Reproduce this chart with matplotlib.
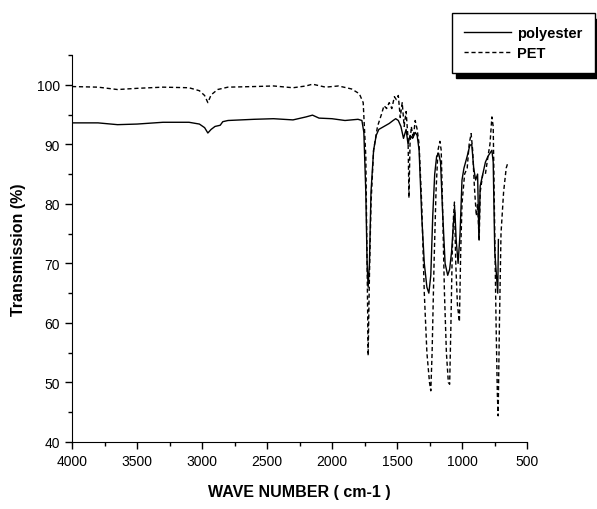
import matplotlib
matplotlib.use("Agg")
import matplotlib.pyplot as plt
from matplotlib.ticker import MultipleLocator

plt.rcParams['font.family'] = ['Liberation Sans', 'DejaVu Sans']

# PET (dashed) - wavenumber (cm-1) and transmission (%)
pet_wn = [4000, 3800, 3650, 3500, 3300, 3100, 3020, 2980, 2955, 2930, 2880, 2800,
          2600, 2450, 2300, 2200, 2150, 2050, 1950, 1850, 1790, 1760, 1740, 1730,
          1722, 1712, 1700, 1680, 1650, 1620, 1600, 1580, 1560, 1540, 1520, 1505,
          1490, 1475, 1460, 1445, 1430, 1415, 1408, 1400, 1390, 1375, 1360, 1345,
          1330, 1310, 1290, 1270, 1250, 1240, 1230, 1215, 1200, 1185, 1170, 1160,
          1150, 1135, 1120, 1105, 1095, 1085, 1075, 1065, 1058, 1048, 1035, 1020,
          1010, 1000, 980, 960, 945, 930, 918, 905, 890, 880, 868, 860, 840, 820,
          800, 785, 770, 760, 748, 738, 728, 722, 712, 700, 680, 660, 646]
pet_t = [99.7, 99.6, 99.2, 99.4, 99.6, 99.5, 99.0, 98.2, 97.0, 98.3, 99.2, 99.6,
         99.7, 99.8, 99.5, 99.8, 100.1, 99.6, 99.8, 99.3, 98.5, 97.0, 88.0, 70.0,
         54.5, 68.0, 80.0, 89.0, 93.0, 95.0, 96.5, 96.0, 97.0, 96.0, 98.0, 97.5,
         98.2, 94.5, 97.0, 93.0, 95.5, 91.0, 81.0, 90.0, 93.0, 91.0, 94.0, 92.5,
         90.0, 80.0, 65.0, 55.0, 50.0, 48.6, 55.0, 70.0, 82.0, 89.0, 90.5, 89.0,
         80.0, 65.0, 55.0, 50.0, 49.7, 60.0, 72.0, 78.0, 80.3, 70.0, 63.0, 60.2,
         72.0, 80.0, 85.0, 86.0, 90.0, 91.8, 89.0, 83.0, 78.0, 80.0, 73.8, 82.0,
         85.0, 85.0, 88.0, 90.0, 94.6, 93.0, 75.0, 60.0, 48.0, 44.4, 60.0, 75.0,
         82.0, 86.0, 87.0]

# polyester (solid)
poly_wn = [4000, 3800, 3650, 3500, 3300, 3100, 3020, 2980, 2955, 2930, 2900, 2860,
           2840, 2800, 2600, 2450, 2300, 2200, 2150, 2100, 2000, 1900, 1800, 1770,
           1755, 1740, 1730, 1722, 1712, 1700, 1680, 1660, 1640, 1600, 1560, 1530,
           1510, 1490, 1470, 1450, 1430, 1415, 1400, 1380, 1360, 1345, 1330, 1310,
           1290, 1270, 1255, 1240, 1225, 1210, 1195, 1180, 1165, 1150, 1130, 1110,
           1095, 1080, 1065, 1055, 1045, 1030, 1015, 1000, 985, 960, 940, 925, 910,
           895, 880, 870, 860, 840, 820, 800, 785, 770, 760, 748, 735, 725, 720]
poly_t = [93.6, 93.6, 93.3, 93.4, 93.7, 93.7, 93.4, 92.8, 91.9, 92.5, 93.0, 93.2,
          93.8, 94.0, 94.2, 94.3, 94.1, 94.6, 94.9, 94.4, 94.3, 94.0, 94.2, 94.0,
          92.0, 82.0, 70.0, 66.0, 70.0, 82.0, 89.0, 91.5, 92.5, 93.0, 93.5, 94.0,
          94.3, 94.0, 93.0, 91.0, 92.5, 90.0, 91.5, 91.0, 92.0, 91.5, 89.0, 78.0,
          70.0, 66.0, 65.0, 68.0, 78.0, 85.0, 88.0, 88.5, 87.0, 79.0, 70.0, 68.0,
          69.0, 72.0, 77.0, 79.0, 74.0, 70.0, 75.0, 84.0, 86.0, 88.0, 89.8, 90.0,
          86.0, 84.0, 85.0, 74.0, 83.0, 85.0, 87.0, 88.0, 88.5, 89.0, 87.0, 72.0,
          68.0, 65.0, 74.0]

fig = plt.figure(figsize=(5.97, 5.10), dpi=100)
ax = fig.add_axes([72 / 597, 67 / 510, 455 / 597, 387 / 510])

ax.plot(poly_wn, poly_t, color='black', lw=1.0, label='polyester')
ax.plot(pet_wn, pet_t, color='black', lw=1.0, linestyle=(0, (3, 2)), label='PET')

ax.set_xlim(4000, 500)
ax.set_ylim(40, 105)
ax.xaxis.set_major_locator(MultipleLocator(500))
ax.xaxis.set_minor_locator(MultipleLocator(250))
ax.yaxis.set_major_locator(MultipleLocator(10))
ax.yaxis.set_minor_locator(MultipleLocator(5))
ax.tick_params(which='major', direction='out', length=5, width=1, labelsize=10)
ax.tick_params(which='minor', direction='out', length=3, width=1)

ax.spines['top'].set_visible(False)
ax.spines['right'].set_visible(False)

ax.set_xlabel('WAVE NUMBER ( cm-1 )', fontsize=11.5, fontweight='bold', labelpad=12)
ax.set_ylabel('Transmission (%)', fontsize=11.5, fontweight='bold', labelpad=8)

# legend box runs off the right edge like in the scan
leg = ax.legend(loc='upper right', bbox_to_anchor=(602 / 597, 503 / 510),
                bbox_transform=fig.transFigure, fancybox=False, framealpha=1,
                edgecolor='black', handlelength=3.2, borderpad=0.85,
                labelspacing=0.45, handletextpad=0.4,
                prop={'weight': 'bold', 'size': 10.5},
                shadow={'color': 'black', 'alpha': 1, 'ox': 3, 'oy': -4})
leg.get_frame().set_linewidth(1.0)

fig.savefig('out.png', dpi=100)
